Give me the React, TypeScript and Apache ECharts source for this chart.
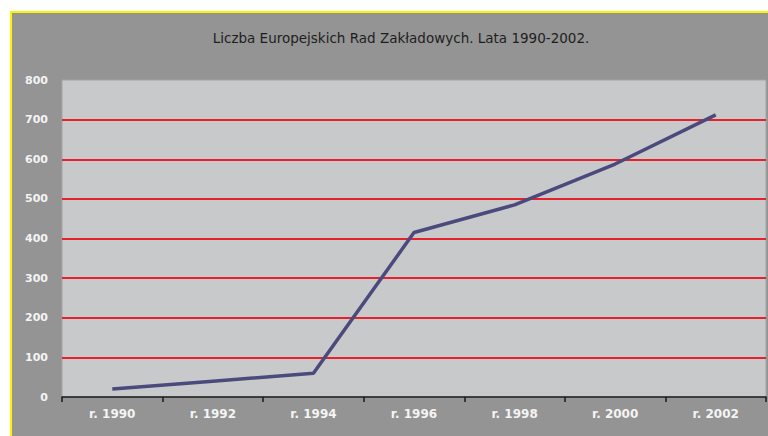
import React, { useEffect, useRef } from "react";
import * as echarts from "echarts";

const titleText = "Liczba Europejskich Rad Zakładowych. Lata 1990-2002.";
const categories = ["r. 1990", "r. 1992", "r. 1994", "r. 1996", "r. 1998", "r. 2000", "r. 2002"];
const values = [20, 40, 60, 415, 485, 588, 712];
const yMin = 0;
const yMax = 800;
const yStep = 100;

export default function App() {
  const ref = useRef<HTMLDivElement>(null);
  useEffect(() => {
    if (!ref.current) return;
    const chart = echarts.init(ref.current, null, { renderer: "svg" });
    const gridColors = ["rgba(0,0,0,0)", "#e8202a", "#e8202a", "#e8202a", "#e8202a", "#e8202a", "#e8202a", "#e8202a", "rgba(0,0,0,0)"];
    chart.setOption({
      animation: false,
      backgroundColor: "transparent",
      title: {
        text: titleText,
        left: 396,
        top: 26,
        textAlign: "center",
        textStyle: { fontFamily: "DejaVu Sans", fontSize: 13.5, fontWeight: "normal", color: "#1e1e1e" },
      },
      grid: {
        left: 62,
        top: 80,
        right: 2,
        bottom: 39,
        show: true,
        backgroundColor: "#c8c9cb",
        borderColor: "#a4a4a6",
        borderWidth: 1,
      },
      xAxis: {
        type: "category",
        data: categories,
        boundaryGap: true,
        axisLine: { show: true, lineStyle: { color: "#1a1a1a", width: 1.5 } },
        axisTick: { show: true, length: 5, lineStyle: { color: "#1a1a1a", width: 1.5 } },
        axisLabel: { color: "#f4f4f4", fontFamily: "DejaVu Sans", fontSize: 12, fontWeight: "bold", margin: 11 },
        splitLine: { show: false },
      },
      yAxis: {
        type: "value",
        min: yMin,
        max: yMax,
        interval: yStep,
        axisLine: { show: false },
        axisTick: { show: false },
        axisLabel: { color: "#f4f4f4", fontFamily: "DejaVu Sans", fontSize: 11, fontWeight: "bold", margin: 14 },
        splitLine: { show: true, lineStyle: { color: gridColors, width: 2 } },
      },
      series: [
        {
          type: "line",
          data: values,
          showSymbol: false,
          symbol: "none",
          lineStyle: { color: "#4b4a7c", width: 3.5 },
        },
      ],
    });
    return () => chart.dispose();
  }, []);
  return (
    <div style={{ position: "absolute", left: 0, top: 0, width: 768, height: 436, background: "#ffffff", overflow: "hidden" }}>
      <div
        style={{
          position: "absolute",
          left: 10,
          top: 11,
          width: 770,
          height: 440,
          background: "#949494",
          borderTop: "2px solid #fff200",
          borderLeft: "2px solid #fff200",
        }}
      />
      <div ref={ref} style={{ position: "absolute", left: 0, top: 0, width: 768, height: 436 }} />
    </div>
  );
}
